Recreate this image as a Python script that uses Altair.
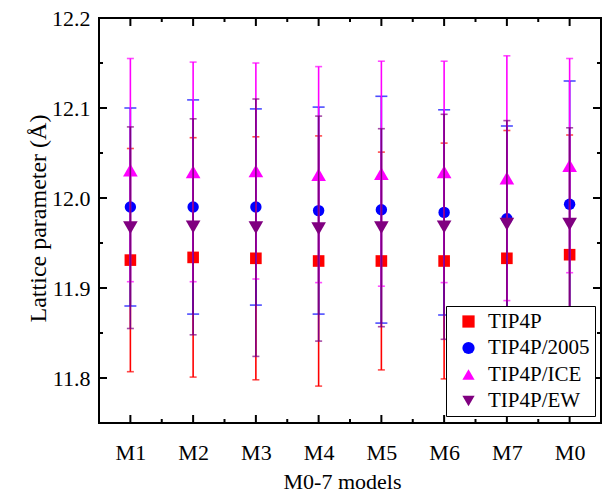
import altair as alt
import pandas as pd

models = ["M1", "M2", "M3", "M4", "M5", "M6", "M7", "M0"]
series = ["TIP4P", "TIP4P/2005", "TIP4P/ICE", "TIP4P/EW"]
colors = ["#ff0000", "#0000ff", "#ff00ff", "#800080"]
shapes = ["square", "circle", "triangle-up", "triangle-down"]

tip4p = [11.931, 11.934, 11.933, 11.930, 11.930, 11.930, 11.933, 11.937]
tip4p_err = [0.124, 0.133, 0.135, 0.139, 0.121, 0.131, 0.142, 0.133]
tip4p2005 = [11.990, 11.990, 11.990, 11.986, 11.987, 11.984, 11.977, 11.993]
tip4p2005_err = [0.110, 0.119, 0.109, 0.115, 0.126, 0.114, 0.103, 0.137]
tip4pice = [12.031, 12.029, 12.030, 12.026, 12.027, 12.029, 12.022, 12.036]
tip4pice_err = [0.124, 0.122, 0.120, 0.120, 0.125, 0.123, 0.136, 0.119]
tip4pew = [11.967, 11.968, 11.967, 11.966, 11.967, 11.968, 11.971, 11.971]
tip4pew_err = [0.112, 0.120, 0.143, 0.125, 0.110, 0.125, 0.115, 0.107]

x_major = [1, 2, 3, 4, 5, 6, 7, 8]
x_minor = [1.5, 2.5, 3.5, 4.5, 5.5, 6.5, 7.5]
y_major = [11.8, 11.9, 12.0, 12.1, 12.2]
y_minor = [11.75, 11.85, 11.95, 12.05, 12.15]

values = [tip4p, tip4p2005, tip4pice, tip4pew]
errors = [tip4p_err, tip4p2005_err, tip4pice_err, tip4pew_err]
cap_w = [7, 12, 7, 7]
pt_size = [135, 130, 215, 215]

rows = []
for s, vals, errs in zip(series, values, errors):
    for i, (v, e) in enumerate(zip(vals, errs)):
        rows.append({"pos": i + 1, "model": models[i], "series": s, "val": v, "err": e})
df = pd.DataFrame(rows)

W, H = 502, 405
FONT = "Liberation Serif"

xscale = alt.Scale(domain=[0.5, 8.5], nice=False, zero=False)
yscale = alt.Scale(domain=[11.75, 12.2], nice=False, zero=False)

label_list = "[" + ",".join("'%s'" % m for m in models) + "]"
xaxis = alt.Axis(values=x_major, labelExpr=label_list + "[datum.value-1]",
                 title="M0-7 models", grid=False, ticks=False, tickSize=0, domain=False,
                 labelFont=FONT, labelFontSize=22, labelColor="black", labelPadding=19,
                 labelFlush=False, labelOverlap=False,
                 titleFont=FONT, titleFontSize=22, titleFontWeight="normal", titleColor="black",
                 titleX=243, titleY=65, titleBaseline="alphabetic")
yaxis = alt.Axis(values=y_major, format=".1f", title="Lattice parameter (Å)",
                 grid=False, ticks=False, tickSize=0, domain=False,
                 labelFont=FONT, labelFontSize=22, labelColor="black", labelPadding=9,
                 labelFlush=False, labelOverlap=False,
                 titleFont=FONT, titleFontSize=24, titleFontWeight="normal", titleColor="black",
                 titleAngle=270, titleX=-61, titleY=200, titleBaseline="middle", titleAlign="center")


def X(field):
    return alt.X(field, type="quantitative", scale=xscale, axis=xaxis)


def Y(field):
    return alt.Y(field, type="quantitative", scale=yscale, axis=yaxis)


cscale = alt.Scale(domain=series, range=colors)
sscale = alt.Scale(domain=series, range=shapes)
legend = alt.Legend(title=None, labelFont=FONT, labelFontSize=21, labelColor="black")

base = alt.Chart(df).transform_calculate(
    lo="datum.val - datum.err", hi="datum.val + datum.err")

layers = []
for i, s in enumerate(series):
    b = base.transform_filter(alt.datum.series == s)
    layers.append(b.mark_rule(color=colors[i], strokeWidth=1.6).encode(
        x=X("pos"), y=Y("lo"), y2="hi:Q"))
    layers.append(b.mark_tick(orient="horizontal", size=cap_w[i], thickness=1.6,
                              color=colors[i]).encode(x=X("pos"), y=Y("hi")))
    layers.append(b.mark_tick(orient="horizontal", size=cap_w[i], thickness=1.6,
                              color=colors[i]).encode(x=X("pos"), y=Y("lo")))
    layers.append(b.mark_point(filled=True, opacity=1, size=pt_size[i], strokeWidth=0).encode(
        x=X("pos"), y=Y("val"),
        color=alt.Color("series:N", scale=cscale, legend=legend),
        shape=alt.Shape("series:N", scale=sscale, legend=legend)))

xmaj = alt.Chart(pd.DataFrame({"pos": x_major}))
xmin = alt.Chart(pd.DataFrame({"pos": x_minor}))
ymaj = alt.Chart(pd.DataFrame({"val": y_major}))
ymin = alt.Chart(pd.DataFrame({"val": y_minor}))

tick_layers = [
    xmaj.mark_rule(color="black", strokeWidth=2).encode(x=X("pos"), y=alt.value(H), y2=alt.value(H - 8)),
    xmaj.mark_rule(color="black", strokeWidth=2).encode(x=X("pos"), y=alt.value(0), y2=alt.value(8)),
    xmin.mark_rule(color="black", strokeWidth=2).encode(x=X("pos"), y=alt.value(H), y2=alt.value(H - 4)),
    xmin.mark_rule(color="black", strokeWidth=2).encode(x=X("pos"), y=alt.value(0), y2=alt.value(4)),
    ymaj.mark_rule(color="black", strokeWidth=2).encode(y=Y("val"), x=alt.value(0), x2=alt.value(8)),
    ymaj.mark_rule(color="black", strokeWidth=2).encode(y=Y("val"), x=alt.value(W), x2=alt.value(W - 8)),
    ymin.mark_rule(color="black", strokeWidth=2).encode(y=Y("val"), x=alt.value(0), x2=alt.value(4)),
    ymin.mark_rule(color="black", strokeWidth=2).encode(y=Y("val"), x=alt.value(W), x2=alt.value(W - 4)),
]

chart = alt.layer(*tick_layers, *layers).properties(
    width=W, height=H,
    autosize=alt.AutoSizeParams(type="none"),
    padding={"left": 99, "top": 18, "right": 4, "bottom": 70},
).configure(
    background="white", font=FONT
).configure_view(
    stroke="black", strokeWidth=2, fill="white"
).configure_legend(
    orient="none", legendX=347, legendY=288,
    fillColor="white", strokeColor="black", strokeWidth=1, cornerRadius=0,
    padding=5, symbolOffset=7, labelOffset=9, rowPadding=4.5,
    labelFont=FONT, labelFontSize=21, labelColor="black",
    symbolSize=150, symbolStrokeWidth=0,
)

chart.save("out.html", embed_options={"renderer": "svg", "actions": False})
